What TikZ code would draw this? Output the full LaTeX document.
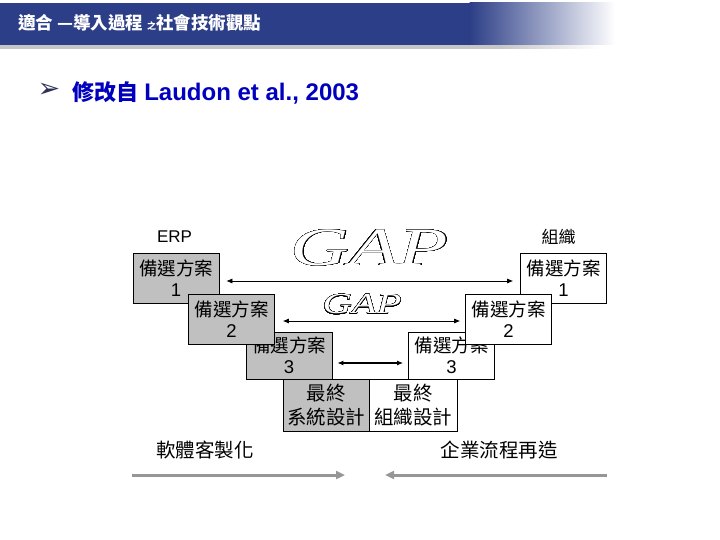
\documentclass[tikz,border=0pt]{standalone}
\usepackage{fontspec}
\setmainfont{Liberation Sans}
\newfontfamily\cjk{Noto Sans CJK TC}
\newfontfamily\serifit{Liberation Serif}
\newfontfamily\dejavu{DejaVu Sans}
\usepackage{contour}
\contournumber{48}
\usetikzlibrary{arrows.meta}
\definecolor{band}{RGB}{44,62,135}
\definecolor{boxgray}{RGB}{192,192,192}
\definecolor{bluetxt}{RGB}{0,0,190}
\definecolor{arrgray}{RGB}{150,150,150}
\definecolor{bulletc}{RGB}{45,50,85}
\newcommand\fsz[2]{\fontsize{#1}{#2}\selectfont}
\newcommand\outlinetext[2]{{\contourlength{#1}\color{white}\contour{black}{#2}}}
\tikzset{
  altbox/.style={draw=black, line width=0.7pt, inner sep=0pt, align=center,
    minimum width=86pt, minimum height=50pt, font=\fsz{18.5}{21.5}},
  erpbox/.style={altbox, fill=boxgray},
  orgbox/.style={altbox, fill=white},
  dbl/.style={{Latex[length=6pt,width=5pt]}-{Latex[length=6pt,width=5pt]}, line width=0.7pt},
  garr/.style={-{Triangle[length=9pt,width=8pt]}, line width=3pt, draw=arrgray},
  outl/.style={inner sep=0pt}
}
\begin{document}
\begin{tikzpicture}[x=1pt,y=-1pt]
\useasboundingbox (0,0) rectangle (720,540);
\fill[white] (0,0) rectangle (720,540);
% header band
\fill[gray!45] (0,45) rectangle (500,49);
\shade[left color=gray!45, right color=white] (499.5,45) rectangle (600,49);
\fill[band] (0,3) rectangle (470,45);
\shade[left color=band, right color=white] (469.5,3) rectangle (615,45);
\node[anchor=west, text=white, font=\cjk\bfseries\fsz{17.5}{20}, inner sep=0pt] (title) at (18,23)
  {適合 —導入過程 {\fsz{9}{10}之}社會技術觀點};
% source line
\node[font=\dejavu\fsz{27}{29}, text=bulletc, inner sep=0pt] (bullet) at (49,90.5) {➢};
\node[anchor=west, inner sep=0pt, text=bluetxt, font=\bfseries\fsz{22}{26}] (src) at (72,93)
  {{\cjk 修改自} {\fsz{24}{26}Laudon et al., 2003}};
% labels
\node[font=\fsz{17}{19}] (erp) at (174.5,237) {ERP};
\node[font=\cjk\fsz{17}{20}] (org) at (558.5,237) {組織};
\node[outl, font=\serifit\itshape\fsz{54}{60}] (gap1) at (369.5,248)
  {\scalebox{1.5}[1]{\outlinetext{0.22pt}{GAP}}};
\node[outl, font=\serifit\itshape\fsz{29}{32}] (gap2) at (362,304.5)
  {\scalebox{1.4}[1]{\outlinetext{0.2pt}{GAP}}};
% boxes
\node[erpbox] (L1) at (176,278) {{\cjk 備選方案}\\1};
\node[orgbox] (R1) at (563.5,278) {{\cjk 備選方案}\\1};
\node[erpbox, minimum height=47pt] (L3) at (289,355.5) {{\cjk 備選方案}\\3};
\node[orgbox, minimum height=47pt] (R3) at (451.5,355.5) {{\cjk 備選方案}\\3};
\node[erpbox] (L2) at (231.5,319) {{\cjk 備選方案}\\2};
\node[orgbox] (R2) at (508.5,319) {{\cjk 備選方案}\\2};
\node[erpbox, minimum width=86pt, minimum height=52pt, font=\cjk\fsz{19.5}{24}] (LF) at (326,405) {最終\\系統設計};
\node[orgbox, minimum width=88pt, minimum height=52pt, font=\cjk\fsz{19.5}{24}] (RF) at (413,405) {最終\\組織設計};
% gap arrows
\draw[dbl, shorten <=7pt, shorten >=7pt] ([yshift=-3pt]L1.east) -- ([yshift=-3pt]R1.west);
\draw[dbl, shorten <=8pt, shorten >=5pt] ([yshift=-2pt]L2.east) -- ([yshift=-2pt]R2.west);
\draw[dbl, line width=1.8pt, shorten <=5pt, shorten >=5pt] ([yshift=-7.5pt]L3.east) -- ([yshift=-7.5pt]R3.west);
% bottom labels
\node[font=\cjk\fsz{19.5}{23}] (sw) at (205,450) {軟體客製化};
\node[font=\cjk\fsz{19.5}{23}] (bpr) at (499,450) {企業流程再造};
\coordinate (g1s) at (132,475);
\coordinate (g1e) at (345,475);
\coordinate (g2s) at (607,475);
\coordinate (g2e) at (385,475);
\draw[garr] (g1s) -- (g1e);
\draw[garr] (g2s) -- (g2e);
\end{tikzpicture}
\end{document}
